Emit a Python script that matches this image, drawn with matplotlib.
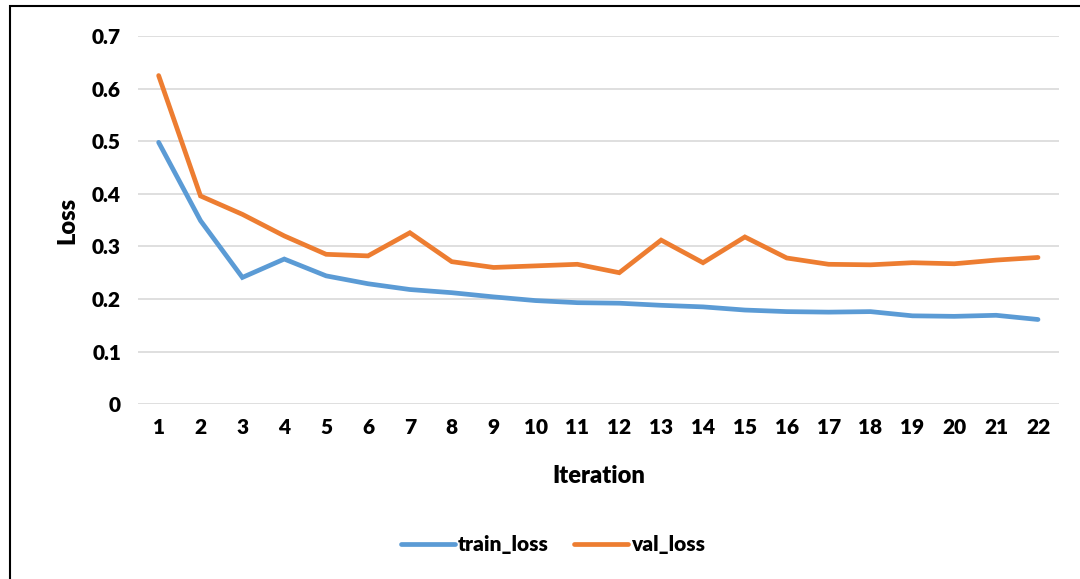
import matplotlib.pyplot as plt
from matplotlib.patches import Rectangle

# loss per iteration
iterations = list(range(1, 23))
train_loss = [0.498, 0.349, 0.241, 0.276, 0.244, 0.229, 0.218, 0.212, 0.204, 0.197, 0.193,
              0.192, 0.188, 0.185, 0.179, 0.176, 0.175, 0.176, 0.168, 0.167, 0.169, 0.161]
val_loss = [0.625, 0.396, 0.361, 0.320, 0.285, 0.282, 0.326, 0.271, 0.260, 0.263, 0.266,
            0.250, 0.312, 0.269, 0.318, 0.278, 0.266, 0.265, 0.269, 0.267, 0.274, 0.279]
y_ticks = [0, 0.1, 0.2, 0.3, 0.4, 0.5, 0.6, 0.7]
y_labels = ['0', '0.1', '0.2', '0.3', '0.4', '0.5', '0.6', '0.7']

plt.rcParams['font.family'] = ['Lato', 'DejaVu Sans']
weight = 'heavy'

fig = plt.figure(figsize=(10.8, 5.79), dpi=100)
ax = fig.add_axes([0.1275, 0.302, 0.853, 0.6356])

ax.plot(iterations, train_loss, color='#5B9BD5', lw=3.4, solid_capstyle='round',
        solid_joinstyle='miter', label='train_loss')
ax.plot(iterations, val_loss, color='#ED7D31', lw=3.4, solid_capstyle='round',
        solid_joinstyle='miter', label='val_loss')

ax.set_xlim(0.5, 22.5)
ax.set_ylim(0, 0.7)
ax.set_xticks(iterations)
ax.set_xticklabels([str(i) for i in iterations], fontsize=15, fontweight=weight)
ax.set_yticks(y_ticks)
ax.set_yticklabels(y_labels, fontsize=15, fontweight=weight)
ax.tick_params(length=0, pad=12)
ax.tick_params(axis='x', pad=10)
ax.grid(axis='y', color='#D9D9D9', lw=1.2)
ax.set_axisbelow(True)
for s in ax.spines.values():
    s.set_visible(False)

ax.set_xlabel('Iteration', fontsize=17, fontweight=weight, labelpad=20)
ax.set_ylabel('Loss', fontsize=17, fontweight=weight, labelpad=10)

fig.legend(loc='center', bbox_to_anchor=(0.512, 0.059), ncol=2, frameon=False,
           prop={'size': 15, 'weight': weight}, handlelength=2.6,
           handletextpad=0.15, columnspacing=1.2)

# outer chart border
fig.patches.append(Rectangle((10 / 1080, -0.1), 1.2, 1 - 6 / 579 + 0.1,
                             transform=fig.transFigure, fill=False,
                             edgecolor='black', lw=1.5))

fig.savefig('out.png', dpi=100)
